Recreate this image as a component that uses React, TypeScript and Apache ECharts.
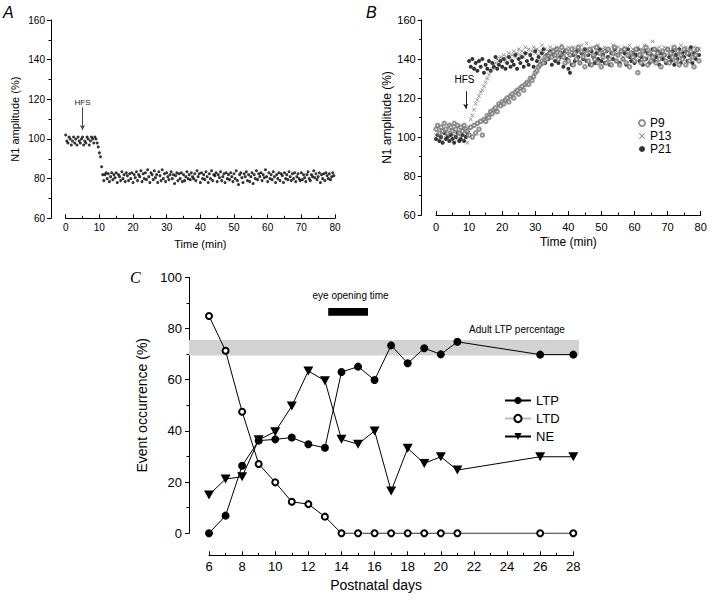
import React, { useEffect, useRef } from "react";
import * as echarts from "echarts";

// ---------- Panel A: N1 amplitude (%), sampled every 1/3 min ----------
const A_SAMPLE_MIN = 1 / 3;
const A_VALUES = [
  102, 99, 98, 101, 100, 97, 99, 101, 98, 100, 97, 101, 99, 98, 100, 101, 97, 99, 98, 101, 100, 97, 99, 101, 100, 98, 101,
  100, 98, 96, 93, 91, 86, 82,
  79, 82, 83, 80, 82.5, 78.5, 81, 83, 79.5, 82,
  80.5, 83, 78, 82, 81, 79, 83.5, 80, 82, 78.5,
  83, 81.5, 79, 82.5, 80, 83, 78, 82, 80.5, 83.5,
  79, 82, 81, 84, 78.5, 82.5, 80, 83, 79.5, 84.5,
  81, 78, 83, 82, 79.5, 84, 80.5, 82, 78, 83.5,
  81.5, 79, 84.5, 80, 82.5, 78.5, 83, 81, 79.5, 82,
  83.5, 80, 82, 77.5, 81.5, 83, 79, 82.5, 80, 83,
  78.5, 82, 79, 81, 83.5, 80, 82, 79.5, 83, 81,
  80, 82.5, 79, 84, 81, 82.5, 78, 83, 80, 82,
  79.5, 83.5, 81, 78, 82.5, 80, 84, 79, 82, 81.5,
  83, 78.5, 82, 80.5, 83.5, 79, 81, 82.5, 78, 83,
  80, 82, 79.5, 83, 81, 78.5, 82.5, 80, 84, 79,
  77, 82, 83, 80.5, 78, 82.5, 81, 83.5, 79, 82,
  78.5, 81, 83, 77.5, 82, 80, 84, 79.5, 82.5, 81,
  83, 79, 82, 80.5, 84.5, 81, 78.5, 83, 80, 82,
  79.5, 83.5, 81, 78, 82, 80, 83, 79, 82.5, 81.5,
  78, 83, 80, 82, 79.5, 83.5, 81, 79, 82.5, 80,
  83, 78.5, 81, 82.5, 80, 79, 83, 79.5, 82, 80.5,
  78.5, 82, 83.5, 80, 79, 82, 81, 84, 80.5, 82.5,
  79.5, 81, 83, 78, 82, 80, 82.5, 79, 83, 81.5,
  80, 82.5, 79.5, 81, 83, 81.5,
];

// ---------- Panel B: N1 amplitude (%), sampled every 0.5 min ----------
const B_SAMPLE_MIN = 0.5;
const B_P9 = [
  104, 106, 102, 105, 103, 107, 104, 102, 106, 105, 103, 107, 104, 106, 102, 105, 103, 106, 104,
  103,
  101, 105, 100, 106, 102, 107, 104, 108, 101, 109, 108, 111, 110, 113, 112, 114, 115, 113, 117, 116, 118,
  117, 119, 120, 118, 121, 122, 120, 123, 124, 122,
  125, 126, 124, 127, 128, 127, 130, 129, 131, 133,
  134, 136, 137, 139, 138, 141, 140, 142, 143, 141,
  144, 142, 145, 140, 143, 146, 141, 138, 144, 139,
  142, 145, 137, 143, 140, 146, 138, 144, 141, 136,
  143, 139, 145, 137, 142, 140, 146, 138, 143, 136,
  141, 144, 138, 145, 140, 137, 143, 146, 139, 142,
  137, 144, 140, 145, 138, 142, 136, 143, 141, 139,
  145, 133, 142, 138, 144, 140, 146, 137, 143, 139,
  141, 145, 138, 143, 140, 136, 144, 142, 139, 145,
  138, 143, 141, 146, 139, 144, 137, 142, 140, 145,
  137, 143, 139, 144, 141, 136, 142, 145, 139,
];
const B_P13 = [
  101, 99, 102, 100, 98, 103, 101, 99, 100, 102, 98, 101, 100, 99, 102, 100, 98, 101, 100,
  97,
  105, 109, 111, 114, 117, 119, 121, 123, 124, 126, 128, 130, 132, 134, 135, 137, 138, 140, 139, 141, 140,
  142, 139, 141, 143, 140, 142, 144, 141, 143, 145,
  142, 144, 141, 146, 143, 145, 142, 144, 146, 143,
  145, 142, 144, 147, 143, 145, 141, 144, 146, 142,
  145, 143, 146, 141, 144, 147, 142, 145, 143, 146,
  142, 144, 146, 143, 145, 141, 144, 147, 143, 145,
  148, 142, 145, 143, 146, 141, 144, 147, 143, 145,
  142, 146, 144, 141, 145, 143, 147, 142, 144, 146,
  143, 145, 141, 146, 144, 142, 147, 143, 145, 144,
  141, 146, 143, 145, 142, 147, 144, 141, 145, 143,
  149, 142, 145, 143, 146, 141, 144, 146, 142, 145,
  143, 141, 146, 144, 142, 145, 143, 147, 141, 144,
  146, 142, 145, 143, 141, 146, 144, 142, 145,
];
const B_P21 = [
  99, 101, 98, 100, 97, 102, 99, 100, 98, 101, 99, 97, 100, 102, 98, 99, 101, 98, 100,
  102,
  139, 136, 140, 135, 138, 134, 139, 136, 140, 133, 137, 135, 139, 134, 138, 136, 141, 135, 137, 139, 136,
  140, 135, 138, 141, 136, 139, 137, 142, 135, 140,
  138, 141, 136, 143, 139, 137, 142, 140, 136, 144,
  139, 141, 137, 143, 145, 138, 142, 140, 144, 137,
  142, 139, 145, 138, 141, 143, 136, 144, 140, 135,
  133, 137, 142, 139, 144, 141, 138, 143, 140, 145,
  139, 142, 137, 144, 141, 138, 143, 140, 145, 139,
  142, 138, 144, 141, 137, 143, 140, 145, 139, 142,
  138, 144, 140, 143, 137, 145, 141, 139, 143, 138,
  142, 145, 139, 141, 137, 144, 140, 143, 138, 142,
  145, 139, 141, 144, 137, 143, 140, 142, 138, 145,
  141, 139, 144, 137, 142, 140, 145, 138, 143, 141,
  144, 139, 142, 146, 138, 143, 140, 145, 142,
];

// ---------- Panel C: event occurrence (%) by postnatal day ----------
const DAYS = [6, 7, 8, 9, 10, 11, 12, 13, 14, 15, 16, 17, 18, 19, 20, 21, 26, 28];
const LTP = [0, 6.9, 26.4, 36.2, 36.7, 37.4, 34.8, 33.4, 63.0, 65.1, 59.9, 73.4, 66.4, 72.3, 69.9, 74.8, 69.8, 69.8];
const LTD = [84.9, 71.3, 47.5, 27.1, 19.9, 12.3, 11.4, 6.5, 0, 0, 0, 0, 0, 0, 0, 0, 0, 0];
const NE = [15.0, 21.2, 22.1, 36.5, 39.7, 49.7, 63.4, 59.6, 36.7, 34.8, 40.0, 16.5, 33.2, 27.3, 29.9, 24.7, 29.9, 29.9];
const ADULT_LTP_BAND = [69.5, 75.5];
const EYE_OPENING = [13.2, 15.6];

const FONT = "'Liberation Sans', Arial, Helvetica, sans-serif";
const X_SYMBOL = "path://M0,1L1,0L5,4L9,0L10,1L6,5L10,9L9,10L5,6L1,10L0,9L4,5Z";

function axisBase(fontSize: number, tickInside: boolean, margin: number) {
  return {
    axisLine: { show: true, onZero: false, lineStyle: { color: "#000", width: 1 } },
    axisTick: { show: true, inside: tickInside, length: 4, lineStyle: { color: "#000", width: 1 } },
    minorTick: { show: true, splitNumber: 2, length: 2.5, lineStyle: { color: "#000", width: 1 } },
    axisLabel: { color: "#000", fontSize, fontFamily: FONT, margin },
    splitLine: { show: false },
    nameTextStyle: { color: "#000", fontFamily: FONT },
  };
}

export default function App() {
  const ref = useRef<HTMLDivElement>(null);
  useEffect(() => {
    if (!ref.current) return;
    const chart = echarts.init(ref.current, null, { renderer: "svg" });
    const aData = A_VALUES.map((v, i) => [i * A_SAMPLE_MIN, v]);
    const bP9 = B_P9.map((v, i) => [i * B_SAMPLE_MIN, v]);
    const bP13 = B_P13.map((v, i) => [i * B_SAMPLE_MIN, v]);
    const bP21 = B_P21.map((v, i) => [i * B_SAMPLE_MIN, v]);

    const option: any = {
      animation: false,
      backgroundColor: "#fff",
      textStyle: { fontFamily: FONT },
      title: [
        { text: "A", left: 3, top: 4, padding: 0, textStyle: { fontSize: 16, fontStyle: "italic", fontWeight: "normal", fontFamily: FONT, color: "#000" } },
        { text: "B", left: 366, top: 4, padding: 0, textStyle: { fontSize: 16, fontStyle: "italic", fontWeight: "normal", fontFamily: FONT, color: "#000" } },
        { text: "C", left: 130, top: 269, padding: 0, textStyle: { fontSize: 16, fontStyle: "italic", fontWeight: "normal", fontFamily: "'Liberation Serif', serif", color: "#000" } },
      ],
      grid: [
        { left: 65.7, top: 20, width: 269.3, height: 198.3 },
        { left: 436, top: 20, width: 264.7, height: 195 },
        { left: 189, top: 277.3, width: 390, height: 256 },
        { left: 209, top: 277.3, width: 364.3, height: 256 },
      ],
      xAxis: [
        {
          gridIndex: 0, type: "value", min: 0, max: 80, interval: 10,
          ...axisBase(10, true, 4),
          name: "Time (min)", nameLocation: "middle", nameGap: 20,
          nameTextStyle: { color: "#000", fontFamily: FONT, fontSize: 11 },
        },
        {
          gridIndex: 1, type: "value", min: 0, max: 80, interval: 10,
          ...axisBase(11, true, 6),
          name: "Time (min)", nameLocation: "middle", nameGap: 21,
          nameTextStyle: { color: "#000", fontFamily: FONT, fontSize: 12 },
        },
        { gridIndex: 2, type: "value", min: 0, max: 1, show: false },
        {
          gridIndex: 3, type: "value", min: 6, max: 28, interval: 2, offset: 22,
          ...axisBase(13, true, 5),
          name: "Postnatal days", nameLocation: "middle", nameGap: 23,
          nameTextStyle: { color: "#000", fontFamily: FONT, fontSize: 14, padding: [0, 30, 0, 0] },
        },
      ],
      yAxis: [
        {
          gridIndex: 0, type: "value", min: 60, max: 160, interval: 20, offset: 14.7,
          ...axisBase(10, false, 6),
          name: "N1 amplitude (%)", nameLocation: "middle", nameRotate: 90, nameGap: 31,
          nameTextStyle: { color: "#000", fontFamily: FONT, fontSize: 11 },
        },
        {
          gridIndex: 1, type: "value", min: 60, max: 160, interval: 20, offset: 14.3,
          ...axisBase(11, false, 6),
          name: "N1 amplitude (%)", nameLocation: "middle", nameRotate: 90, nameGap: 24,
          nameTextStyle: { color: "#000", fontFamily: FONT, fontSize: 12 },
        },
        { gridIndex: 2, type: "value", min: 0, max: 100, show: false },
        {
          gridIndex: 3, type: "value", min: 0, max: 100, interval: 20, offset: 20,
          ...axisBase(13, false, 7),
          name: "Event occurrence (%)", nameLocation: "middle", nameRotate: 90, nameGap: 34,
          nameTextStyle: { color: "#000", fontFamily: FONT, fontSize: 14 },
        },
      ],
      legend: [
        {
          data: ["P9", "P13", "P21"], orient: "vertical", left: 638, top: 117,
          itemWidth: 6, itemHeight: 6, itemGap: 1, padding: 0,
          textStyle: { color: "#000", fontSize: 12, fontFamily: FONT },
        },
        {
          data: ["LTP", { name: "LTD", lineStyle: { color: "#bbb" } }, "NE"], orient: "vertical", left: 504, top: 394,
          itemWidth: 26, itemHeight: 9, itemGap: 5, padding: 0,
          textStyle: { color: "#000", fontSize: 13, fontFamily: FONT },
        },
      ],
      series: [
        {
          name: "A", type: "scatter", xAxisIndex: 0, yAxisIndex: 0, data: aData,
          symbol: "circle", symbolSize: 3, itemStyle: { color: "#000" }, silent: true,
          markLine: {
            silent: true, symbol: ["none", "arrow"], symbolSize: [4, 5],
            lineStyle: { color: "#444", width: 1, type: "solid" }, label: { show: false },
            data: [[{ coord: [5, 116] }, { coord: [5, 104.5] }]],
          },
          markPoint: {
            silent: true, symbol: "circle", symbolSize: 1, itemStyle: { color: "transparent" },
            label: { show: true, formatter: "HFS", color: "#222", fontSize: 8, fontFamily: FONT, position: "inside" },
            data: [{ coord: [5, 118.6] }],
          },
        },
        {
          name: "P21", type: "scatter", xAxisIndex: 1, yAxisIndex: 1, data: bP21,
          symbol: "circle", symbolSize: 4, itemStyle: { color: "#000" }, silent: true,
          markLine: {
            silent: true, symbol: ["none", "arrow"], symbolSize: [4, 5],
            lineStyle: { color: "#222", width: 1, type: "solid" }, label: { show: false },
            data: [[{ coord: [9, 123.5] }, { coord: [9, 114.5] }]],
          },
          markPoint: {
            silent: true, symbol: "circle", symbolSize: 1, itemStyle: { color: "transparent" },
            label: { show: true, formatter: "HFS", color: "#000", fontSize: 10, fontFamily: FONT, position: "inside" },
            data: [{ coord: [8.6, 129.3] }],
          },
        },
        {
          name: "P13", type: "scatter", xAxisIndex: 1, yAxisIndex: 1, data: bP13,
          symbol: X_SYMBOL, symbolSize: 4, itemStyle: { color: "#555" }, silent: true,
        },
        {
          name: "P9", type: "scatter", xAxisIndex: 1, yAxisIndex: 1, data: bP9,
          symbol: "emptyCircle", symbolSize: 3.5, itemStyle: { color: "#777", borderWidth: 0.7 }, silent: true,
        },
        {
          name: "band", type: "line", xAxisIndex: 2, yAxisIndex: 2, data: [], silent: true,
          markArea: {
            silent: true, itemStyle: { color: "#d2d2d2" }, label: { show: false },
            data: [[{ yAxis: ADULT_LTP_BAND[0] }, { yAxis: ADULT_LTP_BAND[1] }]],
          },
        },
        {
          name: "LTP", type: "line", xAxisIndex: 3, yAxisIndex: 3, data: DAYS.map((d, i) => [d, LTP[i]]),
          symbol: "circle", symbolSize: 8, itemStyle: { color: "#000" }, lineStyle: { color: "#000", width: 1 }, z: 4,
          markArea: {
            silent: true, itemStyle: { color: "#000" }, label: { show: false },
            data: [[{ coord: [EYE_OPENING[0], 88] }, { coord: [EYE_OPENING[1], 85] }]],
          },
          markPoint: {
            silent: true, symbol: "circle", symbolSize: 1, itemStyle: { color: "transparent" },
            label: { show: true, color: "#000", fontSize: 10, fontFamily: FONT, position: "inside", formatter: (p: any) => p.name },
            data: [
              { name: "eye opening time", coord: [14.55, 92.7] },
              { name: "Adult LTP percentage", coord: [24.6, 79.8] },
            ],
          },
        },
        {
          name: "LTD", type: "line", xAxisIndex: 3, yAxisIndex: 3, data: DAYS.map((d, i) => [d, LTD[i]]),
          symbol: "emptyCircle", symbolSize: 6, itemStyle: { color: "#000", borderWidth: 0.8 }, lineStyle: { color: "#000", width: 1 }, z: 3,
        },
        {
          name: "NE", type: "line", xAxisIndex: 3, yAxisIndex: 3, data: DAYS.map((d, i) => [d, NE[i]]),
          symbol: "triangle", symbolRotate: 180, symbolSize: [10, 9], itemStyle: { color: "#000" }, lineStyle: { color: "#000", width: 1 }, z: 3,
        },
      ],
    };
    chart.setOption(option);
    return () => chart.dispose();
  }, []);
  return <div ref={ref} style={{ position: "fixed", left: 0, top: 0, width: 720, height: 600, background: "#fff" }} />;
}
